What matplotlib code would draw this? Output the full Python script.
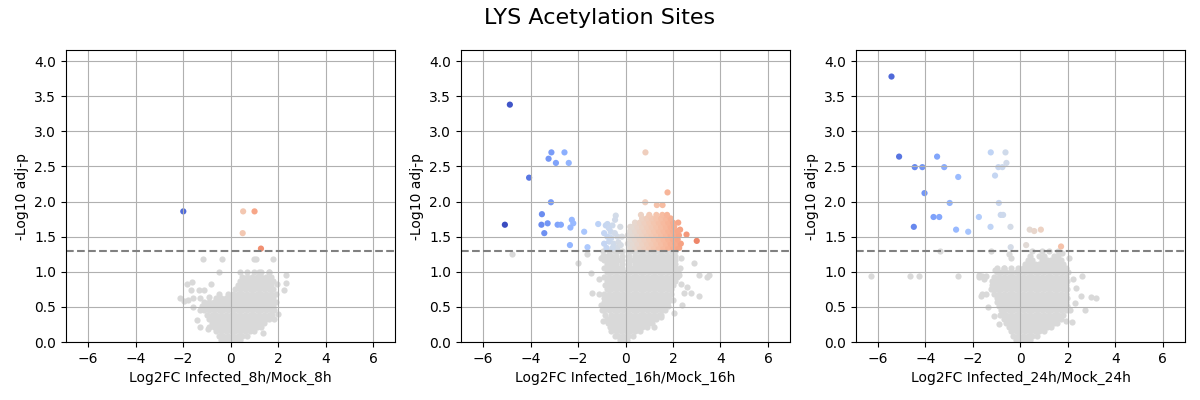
import numpy as np
import matplotlib
matplotlib.use("Agg")
import matplotlib.pyplot as plt
from matplotlib.colors import Normalize

TITLE = "LYS Acetylation Sites"
XLABELS = ["Log2FC Infected_8h/Mock_8h", "Log2FC Infected_16h/Mock_16h", "Log2FC Infected_24h/Mock_24h"]
YLABEL = "-Log10 adj-p"
THRESH = -np.log10(0.05)

# ---------------- Panel 1 (8h) ----------------
P1_GREY_ROWS = [
    (0.03, [-0.4, -0.2, 0.0, 0.2, 0.4]),
    (0.09, [-0.5, -0.3, -0.1, 0.1, 0.3, 0.5, 0.7]),
    (0.15, [-0.6, -0.4, -0.2, 0.0, 0.2, 0.4, 0.6, 0.8, 1.0]),
    (0.21, [-0.9, -0.7, -0.5, -0.3, -0.1, 0.1, 0.3, 0.5, 0.7, 0.9, 1.1, 1.3]),
    (0.27, [-0.8, -0.6, -0.4, -0.2, 0.0, 0.2, 0.4, 0.6, 0.8, 1.0, 1.2, 1.4]),
    (0.33, [-0.9, -0.7, -0.5, -0.3, -0.1, 0.1, 0.3, 0.5, 0.7, 0.9, 1.1, 1.3, 1.5, 1.6]),
    (0.39, [-1.0, -0.8, -0.6, -0.4, -0.2, 0.0, 0.2, 0.4, 0.6, 0.8, 1.0, 1.2, 1.4, 1.6, 1.75]),
    (0.45, [-1.1, -0.9, -0.7, -0.5, -0.3, -0.1, 0.1, 0.3, 0.5, 0.7, 0.9, 1.1, 1.3, 1.5, 1.7, 1.85]),
    (0.51, [-1.2, -1.0, -0.8, -0.6, -0.4, -0.2, 0.0, 0.2, 0.4, 0.6, 0.8, 1.0, 1.2, 1.4, 1.6, 1.8]),
    (0.57, [-1.1, -0.9, -0.7, -0.5, -0.3, -0.1, 0.1, 0.3, 0.5, 0.7, 0.9, 1.1, 1.3, 1.5, 1.7, 1.9]),
    (0.63, [-0.6, -0.4, -0.2, 0.0, 0.2, 0.4, 0.6, 0.8, 1.0, 1.2, 1.4, 1.6, 1.8]),
    (0.69, [-0.1, 0.1, 0.3, 0.5, 0.7, 0.9, 1.1, 1.3, 1.5, 1.7, 1.9]),
    (0.75, [0.2, 0.4, 0.6, 0.8, 1.0, 1.2, 1.4, 1.6, 1.8]),
    (0.81, [0.3, 0.5, 0.7, 0.9, 1.1, 1.3, 1.5, 1.7]),
    (0.87, [0.4, 0.6, 0.8, 1.0, 1.2, 1.4, 1.6, 1.8]),
    (0.93, [0.5, 0.7, 0.9, 1.1, 1.3, 1.5, 1.7]),
    (0.99, [0.4, 0.7, 1.0, 1.3, 1.6]),
]
P1_GREY_X = [-1.18, -0.38, 0.97, 1.07, 1.77, -0.5, 1.21, 1.6, 2.33, 2.33, 2.24, 1.95, -1.84, -1.63,
             -0.83, -1.67, -1.35, -1.11, -2.12, -1.98, -1.6, -1.3, -0.9, -0.5, -1.6, -1.43, -1.29,
             -0.97, 1.98, 1.84, 1.35, -1.3, -1.8]
P1_GREY_Y = [1.18, 1.18, 1.18, 1.18, 1.18, 1.0, 1.0, 1.0, 0.95, 0.84, 0.74, 0.83, 0.82, 0.86,
             0.82, 0.74, 0.74, 0.74, 0.63, 0.58, 0.62, 0.63, 0.64, 0.68, 0.5, 0.32, 0.21,
             0.18, 0.40, 0.33, 0.13, 0.45, 0.6]
P1_SIG_X = [-1.99, 0.53, 1.01, 0.51, 1.28]
P1_SIG_Y = [1.86, 1.86, 1.86, 1.55, 1.33]

# ---------------- Panel 2 (16h) ----------------
P2_GREY_ROWS = [
    (0.03, [-0.25, -0.1, 0.05]),
    (0.09, [-0.45, -0.3, -0.1, 0.1, 0.3]),
    (0.15, [-0.6, -0.4, -0.2, 0.0, 0.2, 0.4, 0.6]),
    (0.21, [-0.65, -0.5, -0.3, -0.1, 0.1, 0.3, 0.5, 0.7, 0.9]),
    (0.27, [-0.75, -0.6, -0.4, -0.2, 0.0, 0.2, 0.4, 0.6, 0.8, 1.0, 1.1]),
    (0.33, [-0.8, -0.7, -0.5, -0.3, -0.1, 0.1, 0.3, 0.5, 0.7, 0.9, 1.1, 1.3]),
    (0.39, [-0.85, -0.6, -0.4, -0.2, 0.0, 0.2, 0.4, 0.6, 0.8, 1.0, 1.2, 1.4, 1.5]),
    (0.45, [-0.9, -0.7, -0.5, -0.3, -0.1, 0.1, 0.3, 0.5, 0.7, 0.9, 1.1, 1.3, 1.5, 1.65]),
    (0.51, [-0.9, -0.8, -0.6, -0.4, -0.2, 0.0, 0.2, 0.4, 0.6, 0.8, 1.0, 1.2, 1.4, 1.6, 1.77]),
    (0.57, [-0.9, -0.7, -0.5, -0.3, -0.1, 0.1, 0.3, 0.5, 0.7, 0.9, 1.1, 1.3, 1.5, 1.7, 1.8]),
    (0.63, [-0.9, -0.8, -0.6, -0.4, -0.2, 0.0, 0.2, 0.4, 0.6, 0.8, 1.0, 1.2, 1.4, 1.6, 1.8, 1.85]),
    (0.69, [-0.9, -0.7, -0.5, -0.3, -0.1, 0.1, 0.3, 0.5, 0.7, 0.9, 1.1, 1.3, 1.5, 1.7, 1.9]),
    (0.75, [-0.8, -0.6, -0.4, -0.2, 0.0, 0.2, 0.4, 0.6, 0.8, 1.0, 1.2, 1.4, 1.6, 1.8, 1.9]),
    (0.81, [-0.85, -0.7, -0.5, -0.3, -0.1, 0.1, 0.3, 0.5, 0.7, 0.9, 1.1, 1.3, 1.5, 1.7, 1.9, 2.0]),
    (0.87, [-0.8, -0.6, -0.4, -0.2, 0.0, 0.2, 0.4, 0.6, 0.8, 1.0, 1.2, 1.4, 1.6, 1.8, 2.0, 2.1]),
    (0.93, [-0.9, -0.7, -0.5, -0.3, -0.1, 0.1, 0.3, 0.5, 0.7, 0.9, 1.1, 1.3, 1.5, 1.7, 1.9, 2.1, 2.15]),
    (0.99, [-0.8, -0.6, -0.4, -0.2, 0.0, 0.2, 0.4, 0.6, 0.8, 1.0, 1.2, 1.4, 1.6, 1.8, 2.0, 2.2]),
    (1.05, [-0.9, -0.7, -0.5, -0.3, -0.15, 0.15, 0.3, 0.5, 0.7, 0.9, 1.1, 1.3, 1.5, 1.7, 1.9, 2.1]),
    (1.11, [-0.8, -0.6, -0.4, -0.15, 0.15, 0.4, 0.6, 0.8, 1.0, 1.2, 1.4, 1.6, 1.8, 2.0, 2.1]),
    (1.17, [-0.9, -0.7, -0.5, -0.3, -0.15, 0.15, 0.3, 0.5, 0.7, 0.9, 1.1, 1.3, 1.5, 1.7, 1.9, 2.1]),
    (1.23, [-0.95, -0.8, -0.6, -0.4, -0.15, 0.15, 0.4, 0.6, 0.8, 1.0, 1.2, 1.4, 1.6, 1.8, 2.0, 2.1]),
    (1.29, [-0.95, -0.7, -0.5, -0.3, -0.15, 0.15, 0.3, 0.5, 0.7, 0.9, 1.1, 1.3, 1.5, 1.7, 1.9, 2.1]),
]
P2_GREY_X = [-4.8, -2.02, -1.63, -1.46, -1.39, -1.1, -1.05, -1.0, -0.95, -1.05, -1.1, 2.89, 3.1,
             3.45, 3.52, 2.75, 3.08, 2.47, 2.33, 2.4, 2.05, 2.6, 2.3, 2.35, 2.25, 2.0, 1.5, 1.2]
P2_GREY_Y = [1.26, 1.13, 1.26, 0.98, 0.70, 0.68, 0.53, 0.45, 0.30, 1.2, 0.9, 1.12, 0.96,
             0.93, 0.95, 0.70, 0.65, 0.70, 0.82, 0.52, 0.41, 0.79, 1.05, 1.2, 0.95, 0.6, 0.36, 0.22]
P2_SIG_ROWS = [
    (1.34, [0.2, 0.4, 0.6, 0.8, 1.0, 1.2, 1.4, 1.6, 1.8, 2.0, 2.2, 2.26]),
    (1.40, [0.1, 0.3, 0.5, 0.7, 0.9, 1.1, 1.3, 1.5, 1.7, 1.9, 2.1, 2.33]),
    (1.46, [0.2, 0.4, 0.6, 0.8, 1.0, 1.2, 1.4, 1.6, 1.8, 2.0, 2.2]),
    (1.52, [0.1, 0.3, 0.5, 0.7, 0.9, 1.1, 1.3, 1.5, 1.7, 1.9, 2.1, 2.25]),
    (1.58, [0.2, 0.4, 0.6, 0.8, 1.0, 1.2, 1.4, 1.6, 1.8, 2.0, 2.2]),
    (1.64, [0.2, 0.3, 0.5, 0.7, 0.9, 1.1, 1.3, 1.5, 1.7, 1.9, 2.05]),
    (1.70, [0.4, 0.6, 0.8, 1.0, 1.2, 1.4, 1.6, 1.8, 2.0, 2.22]),
    (1.76, [0.7, 0.9, 1.1, 1.3, 1.5, 1.7, 1.9]),
    (1.81, [0.65, 1.0, 1.3, 1.55, 1.75]),
]
P2_SIG_X = [0.83, 1.32, 1.56, 1.77, 0.84, 2.3, 2.57, 3.0,
            -4.87, -5.08, -4.06, -3.12, -3.24, -2.93, -2.57, -2.39, -3.14, -3.52, -3.54, -3.28,
            -3.42, -2.86, -2.72, -2.26, -2.2, -2.32, -2.34,
            -1.15, -0.83, -0.76, -0.41, -0.44, -0.55, -0.62, -0.76, -0.69, -0.34, -0.22, -1.74,
            -1.6, -0.8, -0.34, -0.9, -0.5, -0.6, -0.45, -0.3, -0.2, -0.7, -0.9, -0.15, -0.55]
P2_SIG_Y = [1.99, 1.95, 1.95, 2.13, 2.70, 1.60, 1.53, 1.44,
            3.38, 1.67, 2.34, 2.70, 2.61, 2.55, 2.70, 2.55, 1.99, 1.82, 1.67, 1.69,
            1.55, 1.67, 1.67, 1.74, 1.69, 1.63, 1.38,
            1.68, 1.66, 1.68, 1.80, 1.74, 1.66, 1.57, 1.50, 1.43, 1.50, 1.64, 1.57,
            1.35, 1.34, 1.34, 1.40, 1.40, 1.48, 1.55, 1.42, 1.38, 1.62, 1.55, 1.50, 1.34]

# ---------------- Panel 3 (24h) ----------------
P3_GREY_ROWS = [
    (0.03, [-0.2, 0.0, 0.2, 0.4]),
    (0.09, [-0.3, -0.1, 0.1, 0.3, 0.5, 0.7]),
    (0.15, [-0.4, -0.2, 0.0, 0.2, 0.4, 0.6, 0.8, 1.0]),
    (0.21, [-0.5, -0.3, -0.1, 0.1, 0.3, 0.5, 0.7, 0.9, 1.1, 1.3]),
    (0.27, [-0.6, -0.4, -0.2, 0.0, 0.2, 0.4, 0.6, 0.8, 1.0, 1.2, 1.4, 1.55]),
    (0.33, [-0.7, -0.5, -0.3, -0.1, 0.1, 0.3, 0.5, 0.7, 0.9, 1.1, 1.3, 1.5, 1.7]),
    (0.39, [-0.72, -0.6, -0.4, -0.2, 0.0, 0.2, 0.4, 0.6, 0.8, 1.0, 1.2, 1.4, 1.6, 1.8]),
    (0.45, [-0.8, -0.7, -0.5, -0.3, -0.1, 0.1, 0.3, 0.5, 0.7, 0.9, 1.1, 1.3, 1.5, 1.7, 1.9]),
    (0.51, [-0.9, -0.8, -0.6, -0.4, -0.2, 0.0, 0.2, 0.4, 0.6, 0.8, 1.0, 1.2, 1.4, 1.6, 1.8, 1.97]),
    (0.57, [-1.0, -0.9, -0.7, -0.5, -0.3, -0.1, 0.1, 0.3, 0.5, 0.7, 0.9, 1.1, 1.3, 1.5, 1.7, 1.9]),
    (0.63, [-1.0, -0.8, -0.6, -0.4, -0.2, 0.0, 0.2, 0.4, 0.6, 0.8, 1.0, 1.2, 1.4, 1.6, 1.8, 1.97]),
    (0.69, [-1.1, -0.9, -0.7, -0.5, -0.3, -0.1, 0.1, 0.3, 0.5, 0.7, 0.9, 1.1, 1.3, 1.5, 1.7, 1.9]),
    (0.75, [-1.15, -1.0, -0.8, -0.6, -0.4, -0.2, 0.0, 0.2, 0.4, 0.6, 0.8, 1.0, 1.2, 1.4, 1.6, 1.8, 1.97]),
    (0.81, [-1.2, -1.1, -0.9, -0.7, -0.5, -0.3, -0.1, 0.1, 0.3, 0.5, 0.7, 0.9, 1.1, 1.3, 1.5, 1.7, 1.9]),
    (0.87, [-1.2, -1.0, -0.8, -0.6, -0.4, -0.2, 0.0, 0.2, 0.4, 0.6, 0.8, 1.0, 1.2, 1.4, 1.6, 1.8, 1.97]),
    (0.93, [-1.1, -0.9, -0.7, -0.5, -0.3, -0.1, 0.1, 0.3, 0.5, 0.7, 0.9, 1.1, 1.3, 1.5, 1.7, 1.9]),
    (0.99, [-1.0, -0.8, -0.6, -0.4, -0.2, 0.0, 0.2, 0.4, 0.6, 0.8, 1.0, 1.2, 1.4, 1.6, 1.8, 2.0]),
    (1.05, [-1.0, -0.7, -0.4, -0.1, 0.1, 0.3, 0.5, 0.7, 0.9, 1.1, 1.3, 1.5, 1.7, 1.9]),
    (1.11, [0.2, 0.4, 0.6, 0.8, 1.0, 1.2, 1.4, 1.6, 1.8]),
    (1.17, [0.3, 0.5, 0.9, 1.1, 1.3, 1.5, 1.7]),
    (1.23, [0.4, 0.8, 1.0, 1.4, 1.6]),
    (1.29, [0.5, 0.9, 1.2, 1.6]),
]
P3_GREY_X = [-6.3, -4.66, -4.28, -2.65, -3.4, -1.25, -1.74, -1.6, -1.46, -1.08, -0.69, -0.38,
             -1.67, -1.62, -1.45, -1.25, -1.35, -1.11, -0.85, -0.9, 2.96, 3.17, 2.57, 2.7, 2.33,
             2.61, 2.05, 1.77, 2.19, 2.3, 2.2, 2.1, 1.9, -0.5, -1.52, -1.73]
P3_GREY_Y = [0.94, 0.94, 0.94, 0.94, 1.29, 1.29, 0.95, 0.94, 0.94, 1.03, 1.06, 1.19,
             0.65, 0.69, 0.68, 0.75, 0.5, 0.37, 0.38, 0.25, 0.64, 0.63, 0.65, 0.46, 0.77,
             0.94, 1.19, 1.27, 0.28, 0.55, 0.9, 0.45, 0.3, 1.25, 0.9, 0.93]
P3_SIG_X = [-5.43, -5.11, -4.45, -4.13, -3.51, -3.21, -2.62, -4.04, -2.98, -3.66, -3.42, -4.49,
            -2.71, -2.2, -1.75, -1.26, -1.25, -0.63, -0.59, -0.93, -0.76, -1.07, -0.91, -0.83,
            -0.73, -0.42, -0.41, 0.39, 0.58, 0.86, 0.24, 1.71]
P3_SIG_Y = [3.78, 2.64, 2.49, 2.49, 2.64, 2.49, 2.35, 2.12, 1.98, 1.78, 1.78, 1.64,
            1.60, 1.57, 1.78, 1.64, 2.70, 2.70, 2.55, 2.49, 2.49, 2.37, 1.98, 1.81,
            1.81, 1.64, 1.35, 1.60, 1.58, 1.60, 1.38, 1.36]


def flatten(rows, xs, ys):
    fx, fy = list(xs), list(ys)
    for y, row in rows:
        fx.extend(row)
        fy.extend([y] * len(row))
    return np.array(fx), np.array(fy)


panels = []
for grows, gx, gy, srows, sx, sy in [
    (P1_GREY_ROWS, P1_GREY_X, P1_GREY_Y, [], P1_SIG_X, P1_SIG_Y),
    (P2_GREY_ROWS, P2_GREY_X, P2_GREY_Y, P2_SIG_ROWS, P2_SIG_X, P2_SIG_Y),
    (P3_GREY_ROWS, P3_GREY_X, P3_GREY_Y, [], P3_SIG_X, P3_SIG_Y),
]:
    gxa, gya = flatten(grows, gx, gy)
    sxa, sya = flatten(srows, sx, sy)
    panels.append((gxa, gya, sxa, sya))

all_x = np.concatenate([np.concatenate([p[0], p[2]]) for p in panels])
all_y = np.concatenate([np.concatenate([p[1], p[3]]) for p in panels])
xmax = np.abs(all_x).max() * 1.1
ymax = all_y.max() * 1.1

fig, axes = plt.subplots(1, 3, figsize=(12, 4), dpi=100)
fig.subplots_adjust(left=0.055, right=0.9875, top=0.875, bottom=0.145, wspace=0.2)
fig.suptitle(TITLE, fontsize=16, y=0.98)

cmap = plt.get_cmap("coolwarm")
for ax, (gxa, gya, sxa, sya), xl in zip(axes, panels, XLABELS):
    vmax = max(np.abs(gxa).max(), np.abs(sxa).max())
    norm = Normalize(vmin=-vmax, vmax=vmax)
    ax.scatter(gxa, gya, s=20, color="#d9d9d9", linewidths=0)
    ax.scatter(sxa, sya, s=20, c=sxa, cmap=cmap, norm=norm, linewidths=0)
    ax.axhline(THRESH, color="grey", linestyle="--", linewidth=1.5)
    ax.set_xlim(-xmax, xmax)
    ax.set_ylim(0, ymax)
    ax.set_xticks(np.arange(-6, 7, 2))
    ax.set_yticks(np.arange(0, 4.01, 0.5))
    ax.grid(True)
    ax.set_xlabel(xl)
    ax.set_ylabel(YLABEL)

fig.savefig("out.png", dpi=100)
